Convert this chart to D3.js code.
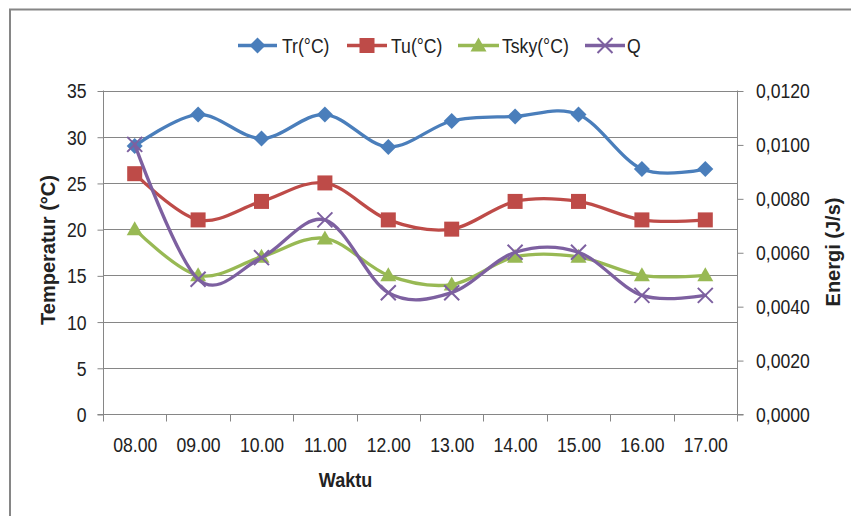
<!DOCTYPE html>
<html>
<head>
<meta charset="utf-8">
<script src="https://cdn.jsdelivr.net/npm/d3@7"></script>
<style>
  html, body { margin: 0; padding: 0; background: #fff; }
  svg { display: block; }
  text { font-family: 'Liberation Sans', Arial, sans-serif; fill: #222; }
</style>
</head>
<body>
<svg id="chart" width="851" height="516"></svg>
<script>
// ---- data ----
const categories = ["08.00","09.00","10.00","11.00","12.00","13.00","14.00","15.00","16.00","17.00"];
const Tr   = [29.0, 32.4, 29.8, 32.4, 28.9, 31.7, 32.2, 32.4, 26.5, 26.5];
const Tu   = [26, 21, 23, 25, 21, 20, 23, 23, 21, 21];
const Tsky = [20, 15, 17, 19, 15, 14, 17, 17, 15, 15];
const Q    = [0.0100, 0.0050, 0.0058, 0.0072, 0.0045, 0.0045, 0.0060, 0.0060, 0.0044, 0.0044];
const leftTicks  = [0, 5, 10, 15, 20, 25, 30, 35];
const rightTicks = [0, 0.002, 0.004, 0.006, 0.008, 0.010, 0.012];
const seriesNames = ["Tr(°C)", "Tu(°C)", "Tsky(°C)", "Q"];

(function () {
// ---- layout ----
const svg = d3.select("#chart");
const pL = 103, pR = 737, pT = 90.5, pB = 414;
const grey = "#868686";
const colors = ["#4A7EBB", "#BE4B48", "#98B954", "#7D60A0"];
const shapes = ["diamond", "square", "triangle", "x"];
const SX = 0.86;   // horizontal condensing to approximate the narrow original face

const x = d3.scaleBand().domain(categories).range([pL, pR]).padding(0);
const cx = c => x(c) + x.bandwidth() / 2;
const yL = d3.scaleLinear().domain([0, 35]).range([pB, pT]);
const yR = d3.scaleLinear().domain([0, 0.012]).range([pB, pT]);

function label(parent, tx, ty, str, anchor, baseline, size, sx) {
  return parent.append("text")
    .attr("transform", `translate(${tx},${ty}) scale(${sx},1)`)
    .attr("text-anchor", anchor).attr("dominant-baseline", baseline)
    .attr("font-size", size).text(str);
}

// chart border
svg.append("rect").attr("x", 10).attr("y", 9.5).attr("width", 900).attr("height", 600)
  .attr("fill", "none").attr("stroke", grey).attr("stroke-width", 2);

// gridlines
svg.append("g").selectAll("line").data(leftTicks.filter(d => d > 0)).join("line")
  .attr("x1", pL).attr("x2", pR)
  .attr("y1", d => Math.round(yL(d)) + 0.5).attr("y2", d => Math.round(yL(d)) + 0.5)
  .attr("stroke", grey).attr("stroke-width", 1);

// left axis (ticks via d3 axis, labels condensed)
const fmtR = d => d3.format(".4f")(d).replace(".", ",");
const gL = svg.append("g").attr("transform", `translate(${pL + 0.5},0.5)`)
  .call(d3.axisLeft(yL).tickValues(leftTicks).tickSize(6).tickFormat(""));
const gR = svg.append("g").attr("transform", `translate(${pR + 0.5},0.5)`)
  .call(d3.axisRight(yR).tickValues(rightTicks).tickSize(6).tickFormat(""));
[gL, gR].forEach(g => {
  g.select(".domain").remove();
  g.selectAll(".tick line").attr("stroke", grey);
  g.selectAll(".tick text").remove();
});
const labL = svg.append("g");
leftTicks.forEach(t => label(labL, 86.5, yL(t) + 1, d3.format("d")(t), "end", "central", 20.5, SX));
const labR = svg.append("g");
rightTicks.forEach(t => label(labR, 756, yR(t) + 1, fmtR(t), "start", "central", 20.5, SX));

// bottom axis with ticks at category boundaries
const gB = svg.append("g").attr("transform", `translate(0.5,${pB + 0.5})`);
gB.append("line").attr("x1", pL - 6).attr("x2", pR + 6).attr("stroke", grey);
const bounds = categories.map(c => x(c)).concat([pR]);
gB.selectAll("line.t").data(bounds).join("line").attr("class", "t")
  .attr("x1", d => Math.round(d)).attr("x2", d => Math.round(d)).attr("y1", 0).attr("y2", 7)
  .attr("stroke", grey);
categories.forEach(c => label(gB, cx(c), 37.5, c, "middle", "auto", 20.5, SX));

svg.append("line").attr("x1", pL + 0.5).attr("x2", pL + 0.5).attr("y1", pT).attr("y2", pB + 7).attr("stroke", grey);
svg.append("line").attr("x1", pR + 0.5).attr("x2", pR + 0.5).attr("y1", pT).attr("y2", pB + 7).attr("stroke", grey);

// axis titles
svg.append("text").attr("transform", "translate(48,250) rotate(-90)")
  .attr("text-anchor", "middle").attr("dominant-baseline", "central")
  .attr("font-weight", "bold").attr("font-size", 20).attr("fill", "#111").text("Temperatur (°C)");
svg.append("text").attr("transform", "translate(833,252) rotate(-90)")
  .attr("text-anchor", "middle").attr("dominant-baseline", "central")
  .attr("font-weight", "bold").attr("font-size", 20).attr("fill", "#111").text("Energi (J/s)");
svg.append("text").attr("transform", "translate(345.5,487) scale(0.9,1)").attr("text-anchor", "middle")
  .attr("font-weight", "bold").attr("font-size", 20).attr("fill", "#111").text("Waktu");

// markers
function marker(g, shape, color, px, py) {
  if (shape === "diamond") {
    g.append("path").attr("d", `M${px},${py - 8}L${px + 8},${py}L${px},${py + 8}L${px - 8},${py}Z`).attr("fill", color);
  } else if (shape === "square") {
    g.append("rect").attr("x", px - 7.5).attr("y", py - 7.5).attr("width", 15).attr("height", 15).attr("fill", color);
  } else if (shape === "triangle") {
    g.append("path").attr("d", `M${px},${py - 8}L${px + 8},${py + 6}L${px - 8},${py + 6}Z`).attr("fill", color);
  } else {
    g.append("path").attr("d", `M${px - 7.5},${py - 7.5}L${px + 7.5},${py + 7.5}M${px - 7.5},${py + 7.5}L${px + 7.5},${py - 7.5}`)
      .attr("stroke", color).attr("stroke-width", 2).attr("fill", "none");
  }
}

const allSeries = [
  { vals: Tr, y: yL }, { vals: Tu, y: yL }, { vals: Tsky, y: yL }, { vals: Q, y: yR }
];
const line = d3.line().curve(d3.curveCardinal.tension(0));
allSeries.forEach((s, i) => {
  const pts = s.vals.map((v, j) => [cx(categories[j]), s.y(v)]);
  const g = svg.append("g");
  g.append("path").attr("d", line(pts)).attr("fill", "none")
    .attr("stroke", colors[i]).attr("stroke-width", 3.3).attr("stroke-linecap", "round");
  pts.forEach(p => marker(g, shapes[i], colors[i], p[0], p[1]));
});

// legend
const legendItems = [
  { lx: 238, lw: 39, tx: 282 },
  { lx: 347, lw: 40, tx: 391 },
  { lx: 458, lw: 41, tx: 502 },
  { lx: 585, lw: 40, tx: 627 }
];
const ly = 45.5;
legendItems.forEach((it, i) => {
  const g = svg.append("g");
  g.append("line").attr("x1", it.lx).attr("x2", it.lx + it.lw).attr("y1", ly).attr("y2", ly)
    .attr("stroke", colors[i]).attr("stroke-width", 3.3);
  marker(g, shapes[i], colors[i], it.lx + it.lw / 2, ly);
  label(g, it.tx, ly + 1, seriesNames[i], "start", "central", 20.5, SX);
});
})();
</script>
</body>
</html>
